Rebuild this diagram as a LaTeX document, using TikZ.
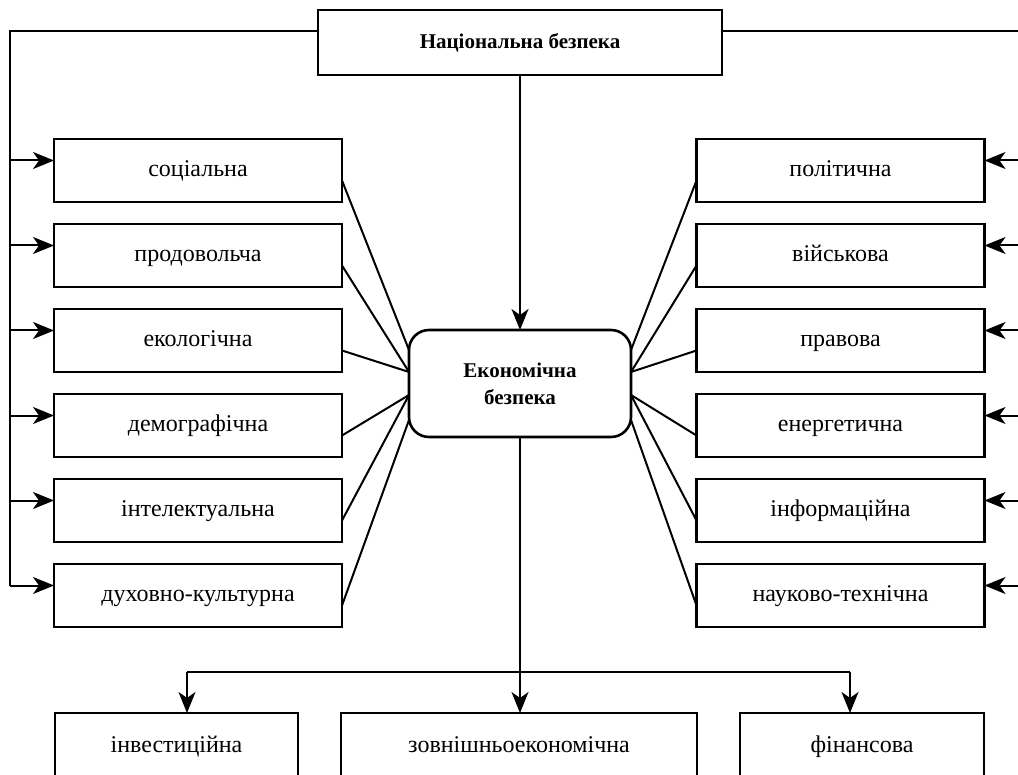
\documentclass[tikz,border=0pt]{standalone}
\usepackage{fontspec}
\setmainfont{Liberation Serif}
\usetikzlibrary{arrows.meta,positioning,calc}

\begin{document}
\begin{tikzpicture}[x=0.5pt, y=-0.5pt,
    link/.style={line width=1pt},
    feed/.style={line width=1pt, -{Stealth[length=10.5pt, width=8.5pt, inset=3pt]}},
    kind/.style={draw, line width=1.3pt, outer sep=0pt, inner sep=0pt, minimum width=144pt, minimum height=31.5pt, text height=8.5pt, text depth=2.5pt, font=\fontsize{12}{14}\selectfont},
    branch/.style={draw, line width=1.3pt, outer sep=0pt, inner sep=0pt, minimum height=33pt, text height=8.5pt, text depth=2.5pt, font=\fontsize{12}{14}\selectfont}]
    \useasboundingbox (0,0) rectangle (1018,775);
    \clip (0,0) rectangle (1018,775);
    \coordinate (spineL) at (10,0);
    \coordinate (spineR) at (1020,0);
    \node[draw, line width=1.3pt, outer sep=0pt, minimum width=202pt, minimum height=32.5pt, font=\bfseries\fontsize{10.5}{13}\selectfont] (national) at (520,42.5) {Національна безпека};
    \node[draw, line width=1.3pt, outer sep=0pt, rounded corners=10pt, minimum width=111pt, minimum height=53.5pt, align=center, font=\bfseries\fontsize{10.5}{13.5}\selectfont] (economic) at (520,383.5) {Економічна\\безпека};
    \node[kind] (social) at (198,170.5) {соціальна};
    \node[kind, below=11pt of social] (food) {продовольча};
    \node[kind, below=11pt of food] (ecology) {екологічна};
    \node[kind, below=11pt of ecology] (demography) {демографічна};
    \node[kind, below=11pt of demography] (intellect) {інтелектуальна};
    \node[kind, below=11pt of intellect] (spirit) {духовно-культурна};
    \node[kind] (politics) at (840.5,170.5) {політична};
    \node[kind, below=11pt of politics] (military) {військова};
    \node[kind, below=11pt of military] (legal) {правова};
    \node[kind, below=11pt of legal] (energy) {енергетична};
    \node[kind, below=11pt of energy] (information) {інформаційна};
    \node[kind, below=11pt of information] (science) {науково-технічна};
    \node[branch, minimum width=121.5pt] (invest) at (176.5,746) {інвестиційна};
    \node[branch, minimum width=178pt] (foreign) at (519,746) {зовнішньоекономічна};
    \node[branch, minimum width=122pt] (finance) at (862,746) {фінансова};
    \draw[feed] (national) -- (economic);
    \draw[link] ([yshift=5.75pt]national.west) -| ([yshift=5pt]spirit.west -| spineL);
    \draw[link] ([yshift=5.75pt]national.east) -| ([yshift=5pt]science.east -| spineR);
    \foreach \sect in {social,food,ecology,demography,intellect,spirit}
        \draw[feed] ([yshift=5pt]\sect.west -| spineL) -- ([yshift=5pt]\sect.west);
    \foreach \sect in {politics,military,legal,energy,information,science}
        \draw[feed] ([yshift=5pt]\sect.east -| spineR) -- ([yshift=5pt]\sect.east);
    \draw[link] ([yshift=-5pt]social.east) -- ([yshift=16.75pt]economic.west);
    \draw[link] ([yshift=-5pt]food.east) -- ([yshift=5.75pt]economic.west);
    \draw[link] ([yshift=-5pt]ecology.east) -- ([yshift=5.75pt]economic.west);
    \draw[link] ([yshift=-5pt]demography.east) -- ([yshift=-5.75pt]economic.west);
    \draw[link] ([yshift=-5pt]intellect.east) -- ([yshift=-5.75pt]economic.west);
    \draw[link] ([yshift=-5pt]spirit.east) -- ([yshift=-18.25pt]economic.west);
    \draw[link] ([yshift=-5pt]politics.west) -- ([yshift=16.75pt]economic.east);
    \draw[link] ([yshift=-5pt]military.west) -- ([yshift=5.75pt]economic.east);
    \draw[link] ([yshift=-5pt]legal.west) -- ([yshift=5.75pt]economic.east);
    \draw[link] ([yshift=-5pt]energy.west) -- ([yshift=-5.75pt]economic.east);
    \draw[link] ([yshift=-5pt]information.west) -- ([yshift=-5.75pt]economic.east);
    \draw[link] ([yshift=-5pt]science.west) -- ([yshift=-18.25pt]economic.east);
    \coordinate (investdrop) at (187,672);
    \coordinate (financedrop) at (850,672);
    \draw[feed] (economic.south) -- (economic.south |- foreign.north);
    \draw[link] (investdrop) -- (financedrop);
    \draw[feed] (investdrop) -- (investdrop |- invest.north);
    \draw[feed] (financedrop) -- (financedrop |- finance.north);
\end{tikzpicture}
\end{document}
